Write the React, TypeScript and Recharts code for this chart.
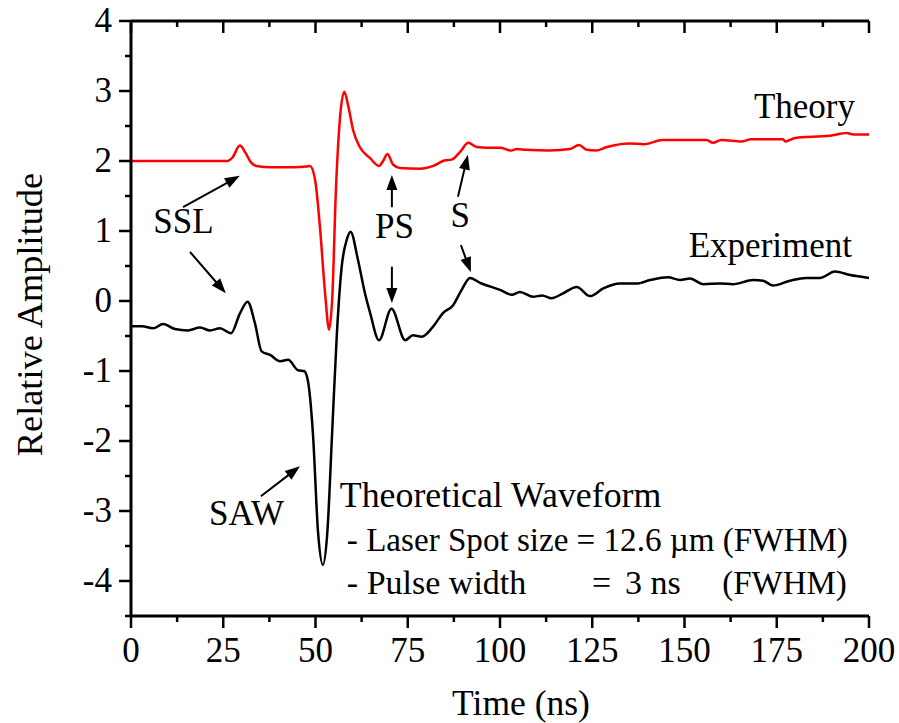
import React from 'react';
import { LineChart, Line, XAxis, YAxis, ReferenceDot, ReferenceLine } from 'recharts';

const FONT = "Liberation Serif";

// Theory waveform (red), offset +2
const theoryTime = [0, 26, 27.5, 29.5, 31, 32.5, 34, 38, 44, 47.5, 48.5, 49.9, 51.2, 52.6, 53.7, 54.6, 55.5, 56.6, 57.8, 58.9, 60.2, 62, 64.8, 67.2, 68.3, 69.5, 71, 72.9, 78.3, 81.9, 85.1, 86.9, 89.2, 91.4, 93.7, 96.4, 100, 103, 104.5, 107, 113.5, 119, 121.4, 123.5, 126, 129, 135, 139, 144, 156, 157.7, 160, 165.6, 168, 176.7, 177.3, 180, 189.4, 194, 195.8, 200];
const theoryAmp = [2, 2, 2.05, 2.22, 2.12, 1.98, 1.93, 1.91, 1.91, 1.92, 1.93, 1.73, 1.06, 0.11, -0.41, 0.11, 1.54, 2.59, 2.99, 2.78, 2.44, 2.2, 2.04, 1.93, 2.0, 2.1, 1.95, 1.9, 1.89, 1.93, 2.01, 2.02, 2.13, 2.26, 2.2, 2.19, 2.19, 2.15, 2.17, 2.16, 2.15, 2.17, 2.23, 2.16, 2.15, 2.2, 2.25, 2.24, 2.3, 2.3, 2.26, 2.3, 2.28, 2.31, 2.31, 2.28, 2.33, 2.36, 2.4, 2.38, 2.38];

// Experiment waveform (black)
const experimentTime = [0, 3, 6, 8.7, 11.9, 15.4, 18.7, 21.4, 24.1, 27.1, 29.5, 31.6, 33.6, 35.4, 37.7, 40.4, 42.6, 45.3, 46.9, 47.9, 49.3, 50.7, 52, 53.2, 54.5, 55.8, 57.1, 58.5, 59.5, 61.5, 63.4, 64.8, 67.2, 70.6, 74.3, 76.4, 78.8, 81.8, 84.6, 87.3, 89.6, 91.9, 94.6, 100, 103.2, 105.4, 109, 111.4, 114, 117.1, 120.8, 124.4, 128, 132.5, 137, 140.7, 145.5, 148.8, 151.5, 155.1, 159.6, 163.1, 168.6, 171.3, 174, 178.6, 183, 186.7, 190.8, 194.9, 200];
const experimentAmp = [-0.36, -0.36, -0.39, -0.33, -0.4, -0.42, -0.38, -0.42, -0.39, -0.46, -0.18, -0.01, -0.32, -0.72, -0.77, -0.86, -0.84, -0.99, -1.0, -1.13, -1.89, -3.31, -3.77, -3.31, -1.89, -0.46, 0.49, 0.88, 0.99, 0.59, 0.11, -0.17, -0.56, -0.11, -0.56, -0.49, -0.51, -0.37, -0.17, -0.06, 0.16, 0.33, 0.26, 0.16, 0.09, 0.13, 0.06, 0.08, 0.04, 0.11, 0.2, 0.07, 0.18, 0.25, 0.25, 0.3, 0.34, 0.3, 0.32, 0.24, 0.25, 0.24, 0.3, 0.29, 0.22, 0.29, 0.33, 0.33, 0.42, 0.37, 0.33];

const xMajorTicks = [0, 25, 50, 75, 100, 125, 150, 175, 200];
const xMinorTicks = [12.5, 37.5, 62.5, 87.5, 112.5, 137.5, 162.5, 187.5];
const yMajorTicks = [-4, -3, -2, -1, 0, 1, 2, 3, 4];
const yMinorTicks = [-4.5, -3.5, -2.5, -1.5, -0.5, 0.5, 1.5, 2.5, 3.5];

const xAllTicks = [...xMajorTicks, ...xMinorTicks].sort((a, b) => a - b);
const yAllTicks = [...yMajorTicks, ...yMinorTicks].sort((a, b) => a - b);

const theoryData = theoryTime.map((t, i) => ({ t, amp: theoryAmp[i] }));
const experimentData = experimentTime.map((t, i) => ({ t, amp: experimentAmp[i] }));

// Annotation texts: [label, t, amp, anchor, fontSize, textLength(0 = natural)]
const annotations: [string, number, number, string, number, number][] = [
  ['Theory', 196.2, 2.61, 'end', 35, 0],
  ['Experiment', 195.4, 0.63, 'end', 35, 0],
  ['SSL', 14.2, 0.97, 'middle', 35, 0],
  ['PS', 71.4, 0.9, 'middle', 35, 0],
  ['S', 89.2, 1.06, 'middle', 35, 0],
  ['SAW', 31.3, -3.2, 'middle', 35, 0],
  ['Theoretical Waveform', 56.6, -2.94, 'start', 35.8, 0],
  ['- Laser Spot size = 12.6 \u00B5m (FWHM)', 58.5, -3.57, 'start', 34, 501],
  ['- Pulse width', 58.5, -4.19, 'start', 34, 0],
  ['=', 124.9, -4.19, 'start', 34, 0],
  ['3 ns', 133.9, -4.19, 'start', 34, 0],
  ['(FWHM)', 194.0, -4.19, 'end', 33, 0],
];

// Arrows: [t1, a1, t2, a2] (tail -> head)
const arrows: [number, number, number, number][] = [
  [14.1, 1.34, 29.5, 1.79],
  [16, 0.7, 25.7, 0.11],
  [70.7, 1.34, 70.7, 1.8],
  [70.7, 0.49, 70.7, -0.03],
  [88.6, 1.49, 91.3, 2.09],
  [89.4, 0.8, 92.1, 0.41],
  [35.2, -2.79, 45.8, -2.36],
];

const AX = 2.5;
const textStyle: React.CSSProperties = { fontFamily: FONT, fontSize: 35, fill: '#000', whiteSpace: 'pre' };

const BottomTick = (props: any) => {
  const { x, y, payload } = props;
  const v = payload.value;
  const major = xMajorTicks.includes(v);
  return (
    <g>
      <line x1={x} y1={y} x2={x} y2={y + (major ? 12 : 6)} stroke="#000" strokeWidth={AX} />
      {major && (
        <text x={x} y={y + 46} textAnchor="middle" style={textStyle}>
          {v}
        </text>
      )}
    </g>
  );
};

const LeftTick = (props: any) => {
  const { x, y, payload } = props;
  const v = payload.value;
  const major = yMajorTicks.includes(v);
  return (
    <g>
      <line x1={x} y1={y} x2={x - (major ? 12 : 6)} y2={y} stroke="#000" strokeWidth={AX} />
      {major && (
        <text x={x - 19} y={y + 11} textAnchor="end" style={textStyle}>
          {String(v)}
        </text>
      )}
    </g>
  );
};

const RightTick = (props: any) => {
  const { x, y, payload } = props;
  const major = yMajorTicks.includes(payload.value);
  return <line x1={x} y1={y} x2={x - (major ? 12 : 6)} y2={y} stroke="#000" strokeWidth={AX} />;
};

const ArrowShape = (p: any) => {
  const { x1, y1, x2, y2 } = p;
  const dx = x2 - x1;
  const dy = y2 - y1;
  const len = Math.sqrt(dx * dx + dy * dy) || 1;
  const ux = dx / len;
  const uy = dy / len;
  const hl = 15;
  const hw = 5.5;
  const bx = x2 - ux * hl;
  const by = y2 - uy * hl;
  const pts = `${x2},${y2} ${bx - uy * hw},${by + ux * hw} ${bx + uy * hw},${by - ux * hw}`;
  return (
    <g>
      <line x1={x1} y1={y1} x2={bx + ux * 2} y2={by + uy * 2} stroke="#000" strokeWidth={2} />
      <polygon points={pts} fill="#000" />
    </g>
  );
};

export default function App() {
  return (
    <div style={{ position: 'absolute', left: 0, top: 0, background: '#fff' }}>
      <LineChart width={899} height={723} margin={{ top: 21, right: 30, bottom: 47, left: 0 }}>
        <XAxis
          dataKey="t"
          type="number"
          domain={[0, 200]}
          ticks={xAllTicks}
          interval={0}
          allowDataOverflow
          height={60}
          tickSize={0}
          tickMargin={0}
          tickLine={false}
          axisLine={{ stroke: '#000', strokeWidth: 3 }}
          tick={<BottomTick />}
          label={{
            content: (lp: any) => {
              const vb = lp.viewBox || { x: 131, y: 616, width: 738 };
              return (
                <text x={vb.x + vb.width / 2 + 21} y={vb.y + 99} textAnchor="middle" style={{ ...textStyle, fontSize: 35.5 }}>
                  Time (ns)
                </text>
              );
            },
          }}
        />
        <YAxis
          type="number"
          domain={[-4.5, 4]}
          ticks={yAllTicks}
          interval={0}
          allowDataOverflow
          width={131}
          tickSize={0}
          tickMargin={0}
          tickLine={false}
          axisLine={{ stroke: '#000', strokeWidth: 3 }}
          tick={<LeftTick />}
          label={{
            content: (lp: any) => {
              const vb = lp.viewBox || { x: 0, y: 21, width: 131, height: 595 };
              const cx = 42;
              const cy = vb.y + vb.height / 2 - 4;
              return (
                <text x={cx} y={cy} transform={`rotate(-90 ${cx} ${cy})`} textAnchor="middle" style={{ ...textStyle, fontSize: 36.3 }}>
                  Relative Amplitude
                </text>
              );
            },
          }}
        />
        <YAxis
          yAxisId="right"
          orientation="right"
          type="number"
          domain={[-4.5, 4]}
          ticks={yAllTicks}
          interval={0}
          allowDataOverflow
          width={0}
          tickSize={0}
          tickMargin={0}
          tickLine={false}
          axisLine={{ stroke: '#000', strokeWidth: 3 }}
          tick={<RightTick />}
        />
        <ReferenceLine y={4} stroke="#000" strokeWidth={3} ifOverflow="visible" />
        {xAllTicks.map((t) => (
          <ReferenceDot
            key={'tt' + t}
            x={t}
            y={4}
            r={0}
            ifOverflow="visible"
            shape={(p: any) => (
              <line x1={p.cx} y1={p.cy} x2={p.cx} y2={p.cy + (xMajorTicks.includes(t) ? 12 : 6)} stroke="#000" strokeWidth={AX} />
            )}
          />
        ))}
        <Line data={theoryData} dataKey="amp" type="monotone" stroke="#ff0000" strokeWidth={2.5} dot={false} activeDot={false} isAnimationActive={false} />
        <Line data={experimentData} dataKey="amp" type="monotone" stroke="#000000" strokeWidth={2.5} dot={false} activeDot={false} isAnimationActive={false} />
        {arrows.map((a, i) => (
          <ReferenceLine
            key={'arr' + i}
            segment={[{ x: a[0], y: a[1] }, { x: a[2], y: a[3] }]}
            ifOverflow="visible"
            shape={(p: any) => <ArrowShape {...p} />}
          />
        ))}
        {annotations.map((a, i) => (
          <ReferenceDot
            key={'txt' + i}
            x={a[1]}
            y={a[2]}
            r={0}
            ifOverflow="visible"
            shape={(p: any) => (
              <text
                x={p.cx}
                y={p.cy}
                textAnchor={a[3] as any}
                style={{ ...textStyle, fontSize: a[4] }}
                {...(a[5] ? { textLength: a[5], lengthAdjust: 'spacingAndGlyphs' } : {})}
              >
                {a[0]}
              </text>
            )}
          />
        ))}
      </LineChart>
    </div>
  );
}
